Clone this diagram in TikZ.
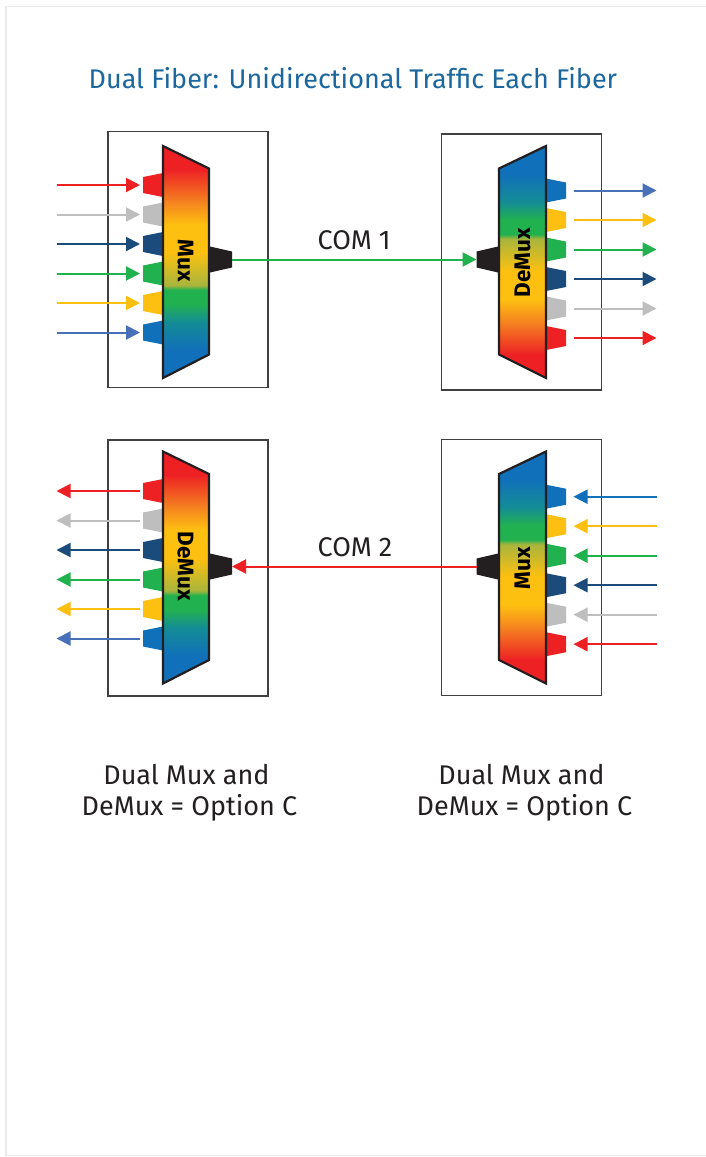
\documentclass[tikz,border=0pt]{standalone}
\usepackage{fontspec}
\setmainfont{Fira Sans}
\usetikzlibrary{arrows.meta}
\definecolor{cred}{HTML}{ED2024}
\definecolor{cgray}{HTML}{BEBEBE}
\definecolor{cnavy}{HTML}{1B4B7A}
\definecolor{cgreen}{HTML}{22B14F}
\definecolor{cyellow}{HTML}{FDC010}
\definecolor{cblue}{HTML}{1170BA}
\definecolor{cablue}{HTML}{4870B8}
\definecolor{cink}{HTML}{231F20}
\definecolor{ctitle}{HTML}{1B679E}
\definecolor{cframe}{HTML}{EBEBEB}
\definecolor{corange}{HTML}{F58220}
\definecolor{cteal}{HTML}{148C96}
\definecolor{colive}{HTML}{A8B53C}
\pgfdeclareverticalshading{muxgrad}{100bp}{
 color(0bp)=(cblue); color(31bp)=(cblue); color(37bp)=(cteal); color(41bp)=(cgreen); color(44bp)=(cgreen);
 color(45bp)=(colive); color(52bp)=(cyellow); color(58bp)=(cyellow); color(63bp)=(corange); color(70bp)=(cred); color(100bp)=(cred)}
\pgfdeclareverticalshading{demuxgrad}{100bp}{
 color(0bp)=(cred); color(30bp)=(cred); color(37bp)=(corange); color(42bp)=(cyellow); color(48bp)=(cyellow);
 color(55bp)=(colive); color(56bp)=(cgreen); color(59bp)=(cgreen); color(63bp)=(cteal); color(69bp)=(cblue); color(100bp)=(cblue)}
\tikzset{
 x=1pt,y=-1pt,
 >={Triangle[length=14pt,width=14pt]},
 unitbox/.style={draw=black!75,line width=1.1pt},
 trap/.style={draw=cink,line width=2.2pt,line join=miter},
 wire/.style={line width=2pt},
 body/.style={font=\fontsize{27}{32}\selectfont,text=cink,inner sep=0pt,anchor=base},
 unitlabel/.style={font=\fontsize{22.5}{24}\selectfont\bfseries,text=black,inner sep=0pt},
}
% #1 name, #2 box top, #3 trapezoid top, #4 first port y, #5 com y, #6 label, #7 label y, #8 shading, #9 arrow direction
\newcommand\leftunit[9]{
 \draw[unitbox] (108,#2) rectangle (268,#2+256);
 \foreach \c/\a [count=\i from 0] in {cred/cred,cgray/cgray,cnavy/cnavy,cgreen/cgreen,cyellow/cyellow,cblue/cablue}{
  \pgfmathsetmacro\py{#4+29.5*\i}
  \fill[\c] (163,\py-12) -- (143,\py-8) -- (143,\py+8) -- (163,\py+12) -- cycle;
  \coordinate (#1o\i) at (56.5,\py);
  \coordinate (#1p\i) at (140,\py);
  \draw[wire,#9,\a] (#1o\i) -- (#1p\i);
 }
 \fill[cink] (210,#5-13) -- (232,#5-8) -- (232,#5+8) -- (210,#5+13) -- cycle;
 \coordinate (#1com) at (232,#5);
 \draw[trap,shading=#8] (163,#3) -- (209,#3+22.5) -- (209,#3+208.5) -- (163,#3+232) -- cycle;
 \node[unitlabel,rotate=-90] (#1lab) at (185.5,#7) {#6};
}
% #9 blue arrow colour
\newcommand\rightunit[9]{
 \draw[unitbox] (441.5,#2) rectangle (601.5,#2+256);
 \foreach \c/\a [count=\i from 0] in {cblue/#9,cyellow/cyellow,cgreen/cgreen,cnavy/cnavy,cgray/cgray,cred/cred}{
  \pgfmathsetmacro\py{#4+29.5*\i}
  \fill[\c] (546,\py-12) -- (566,\py-8) -- (566,\py+8) -- (546,\py+12) -- cycle;
  \coordinate (#1o\i) at (656.5,\py);
  \coordinate (#1p\i) at (573.5,\py);
  \ifnum#7>400 \draw[wire,<-,\a] (#1p\i) -- (#1o\i);
  \else \draw[wire,->,\a] (#1p\i) -- (#1o\i); \fi
 }
 \fill[cink] (498,#5-13) -- (476.5,#5-8) -- (476.5,#5+8) -- (498,#5+13) -- cycle;
 \coordinate (#1com) at (476.5,#5);
 \draw[trap,shading=#8] (546,#3) -- (499,#3+22.5) -- (499,#3+208.5) -- (546,#3+232) -- cycle;
 \node[unitlabel,rotate=90] (#1lab) at (522.5,#7) {#6};
}
\begin{document}
\begin{tikzpicture}
\useasboundingbox (0,0) rectangle (706,1157);
\fill[white] (0,0) rectangle (706,1157);
\draw[cframe,line width=1.5pt] (707,6.5) -- (6,6.5) -- (6,1155.5) -- (707,1155.5);
\node[font=\fontsize{27}{32}\selectfont,text=ctitle,inner sep=0pt,anchor=base west] (title) at (88.5,88) {Dual Fiber: Unidirectional Traffic Each Fiber};
\leftunit{A}{131.5}{146}{185}{259.5}{Mux}{261}{muxgrad}{->}
\rightunit{B}{134}{146}{190.5}{259.5}{DeMux}{263}{demuxgrad}{cablue}
\leftunit{C}{440}{451.5}{491}{566.5}{DeMux}{566}{muxgrad}{<-}
\rightunit{D}{439.7}{451.5}{496.7}{566.5}{Mux}{568}{demuxgrad}{cblue}
\draw[wire,->,cgreen] (Acom) -- (Bcom);
\draw[wire,->,cred] (Dcom) -- (Ccom);
\node[body,anchor=base west] (com1) at (317.5,249) {COM 1};
\node[body,anchor=base west] (com2) at (317.5,556) {COM 2};
\node[body] (l1a) at (186.5,784) {Dual Mux and};
\node[body] (l1b) at (189.5,815) {DeMux = Option C};
\node[body] (l2a) at (521.5,784) {Dual Mux and};
\node[body] (l2b) at (524.5,815) {DeMux = Option C};
\end{tikzpicture}
\end{document}
